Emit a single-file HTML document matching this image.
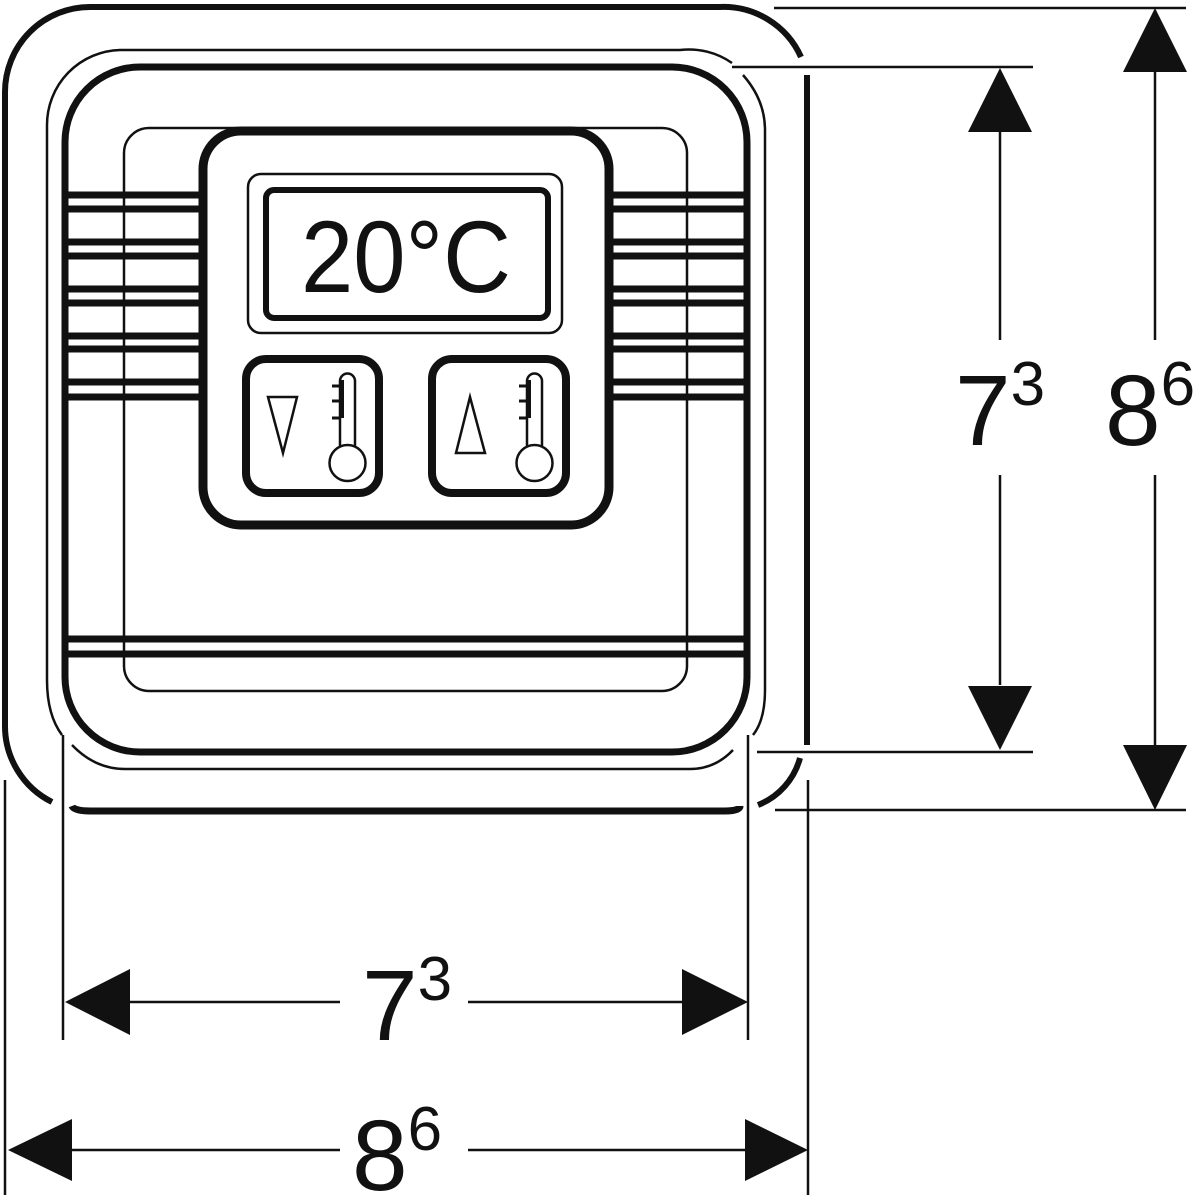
<!DOCTYPE html>
<html><head><meta charset="utf-8"><style>html,body{margin:0;padding:0;background:#fff}svg{display:block}</style></head>
<body>
<svg width="1200" height="1200" viewBox="0 0 1200 1200" xmlns="http://www.w3.org/2000/svg" fill="none" stroke="#111" font-family="Liberation Sans, sans-serif">
<!-- outer frame -->
<path d="M801 57 A85 85 0 0 0 720 7 L90 7 A85 85 0 0 0 5 92 L5 725 A85 85 0 0 0 52 802" stroke-width="6"/>
<path d="M807 75 L807 745" stroke-width="6"/>
<path d="M800 758 A70 70 0 0 1 758 805" stroke-width="6"/>
<path d="M72 806 Q74 811 90 811 L725 811 Q740 811 740 806" stroke-width="7"/>
<!-- second frame thin -->
<path d="M732 63 A75 75 0 0 0 680 50 L120 50 A75 75 0 0 0 47 125 L47 680 Q47 715 62 735" stroke-width="2.5"/>
<path d="M743 75 Q765 100 765 130 L765 690 Q765 720 753 735" stroke-width="2.5"/>
<path d="M72 745 Q95 769 125 769 L690 769 Q715 769 733 750" stroke-width="2.5"/>
<!-- third frame thick -->
<rect x="65" y="67" width="682" height="685" rx="75" stroke-width="7"/>
<!-- inner thin frame -->
<rect x="124" y="128" width="563" height="563" rx="25" stroke-width="2.5"/>
<!-- stripes -->
<g stroke-width="7">
<path d="M65 195H200M65 209H200M65 242H200M65 256H200M65 289H200M65 303H200M65 336H200M65 349H200M65 382H200M65 397H200"/>
<path d="M612 195H747M612 209H747M612 242H747M612 256H747M612 289H747M612 303H747M612 336H747M612 349H747M612 382H747M612 397H747"/>
<path d="M65 639H747M65 654H747"/>
</g>
<!-- panel -->
<rect x="203" y="131" width="406" height="394" rx="38" fill="#fff" stroke-width="9"/>
<rect x="210" y="138" width="392" height="380" rx="32" stroke-width="1.5" stroke="#fff"/>
<!-- display -->
<rect x="248" y="174" width="314" height="159" rx="13" stroke-width="2.5"/>
<rect x="266" y="190" width="282" height="128" rx="8" stroke-width="6"/>
<text x="301" y="292" textLength="210" lengthAdjust="spacingAndGlyphs" font-size="102" fill="#111" stroke="none">20°C</text>
<!-- buttons -->
<rect x="246" y="359" width="133" height="134" rx="20" stroke-width="8"/>
<rect x="432" y="359" width="134" height="134" rx="20" stroke-width="8"/>
<path d="M268 397 L297 397 L283 453 Z" stroke-width="2.5"/>
<path d="M456 453 L485 453 L470 397 Z" stroke-width="2.5"/>
<g id="th" stroke-width="2.5">
<path d="M340 447 L340 381 A7.5 7.5 0 0 1 355 381 L355 447"/>
<circle cx="347.5" cy="463" r="18"/>
<path d="M332 386H341M332 401H341M332 418H341" stroke-width="3"/>
<path d="M342 380V418" stroke-width="4"/>
</g>
<use href="#th" transform="translate(187,0)"/>
<!-- extension lines -->
<g stroke-width="2.5">
<path d="M774 8H1186M732 67H1033M757 752H1033M775 810H1186"/>
<path d="M63 735V1040M748 735V1040M5 780V1195M808 780V1195"/>
<path d="M130 1002H340M468 1002H682M70 1150H340M468 1150H745"/>
<path d="M1000 130V340M1000 475V685M1155 70V340M1155 475V745"/>
</g>
<!-- arrowheads -->
<g fill="#111" stroke="none">
<path d="M65 1002 L130 969 L130 1035Z"/>
<path d="M748 1002 L682 969 L682 1035Z"/>
<path d="M8 1150 L72 1119 L72 1181Z"/>
<path d="M808 1150 L745 1119 L745 1181Z"/>
<path d="M1000 68 L968 132 L1032 132Z"/>
<path d="M1000 750 L968 686 L1032 686Z"/>
<path d="M1155 8 L1123 72 L1187 72Z"/>
<path d="M1155 810 L1123 745 L1187 745Z"/>
</g>
<!-- labels -->
<g fill="#111" stroke="none" font-size="100">
<text x="362" y="1040">7<tspan font-size="62" dy="-40">3</tspan></text>
<text x="352" y="1190">8<tspan font-size="62" dy="-40">6</tspan></text>
<text x="955" y="445">7<tspan font-size="62" dy="-40">3</tspan></text>
<text x="1105" y="445">8<tspan font-size="62" dy="-40">6</tspan></text>
</g>
</svg>
</body></html>
